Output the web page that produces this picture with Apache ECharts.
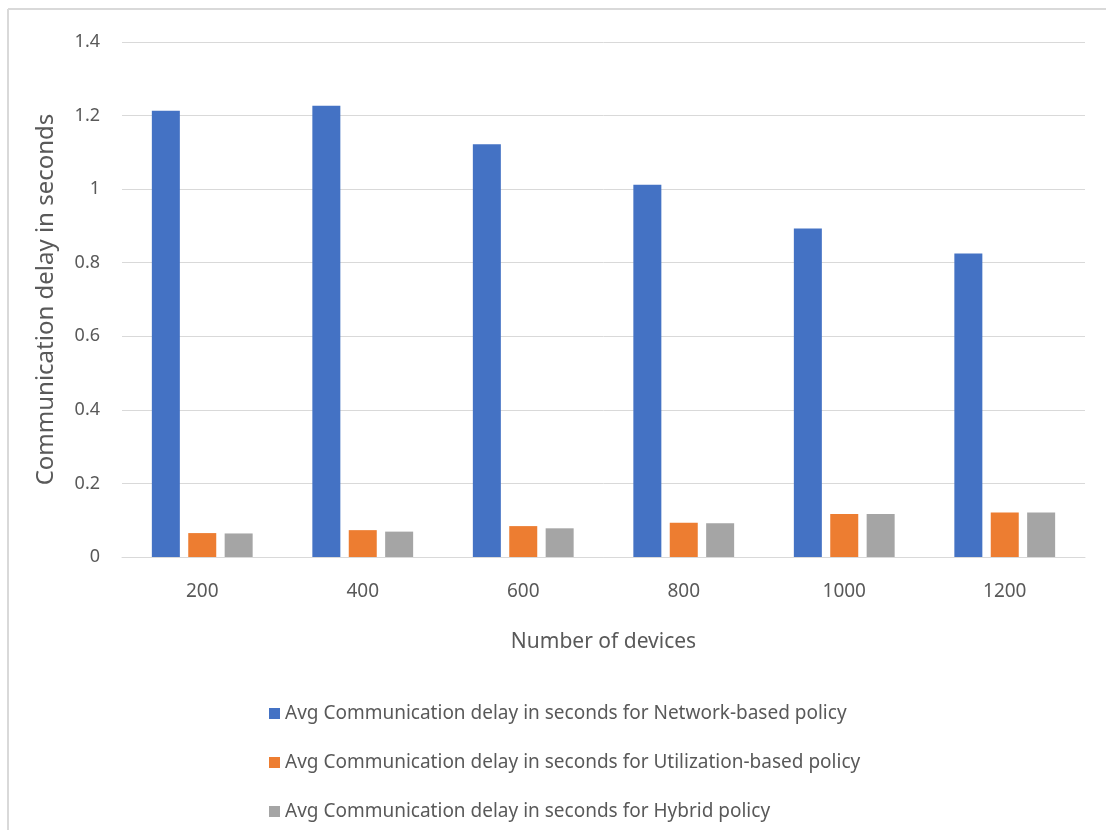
<!DOCTYPE html>
<html>
<head>
<meta charset="utf-8">
<script src="https://cdn.jsdelivr.net/npm/echarts@6/dist/echarts.min.js"></script>
<style>
  html, body { margin: 0; padding: 0; background: #fff; }
  #chart { width: 1106px; height: 830px; }
</style>
</head>
<body>
<div id="chart"></div>
<script>
// Number of devices on the x axis
const categories = ['200', '400', '600', '800', '1000', '1200'];

// Average communication delay (seconds) per policy
const networkBased = [1.213, 1.227, 1.122, 1.012, 0.893, 0.825];
const utilizationBased = [0.065, 0.073, 0.084, 0.093, 0.117, 0.121];
const hybrid = [0.064, 0.069, 0.078, 0.092, 0.117, 0.121];

const seriesNames = [
  'Avg Communication delay in seconds for Network-based policy',
  'Avg Communication delay in seconds for Utilization-based policy',
  'Avg Communication delay in seconds for Hybrid policy'
];
const colors = ['#4472c4', '#ed7d31', '#a5a5a5'];

const FONT = 'Noto Sans';
const TEXT = '#595959';

const chart = echarts.init(document.getElementById('chart'), null, { renderer: 'canvas' });

const makeBar = (name, data, color) => ({
  name,
  type: 'bar',
  data,
  barWidth: 28,
  barGap: '30%',
  itemStyle: { color },
  emphasis: { disabled: true }
});

chart.setOption({
  backgroundColor: '#ffffff',
  animation: false,
  color: colors,
  textStyle: { fontFamily: FONT, color: TEXT },
  // chart frame (left and top edges)
  graphic: [
    { type: 'line', shape: { x1: 8, y1: 9, x2: 1106, y2: 9 }, style: { stroke: '#d9d9d9', lineWidth: 2 } },
    { type: 'line', shape: { x1: 8, y1: 9, x2: 8, y2: 830 }, style: { stroke: '#d9d9d9', lineWidth: 2 } }
  ],
  grid: { left: 122, right: 21, top: 42, bottom: 273 },
  legend: {
    orient: 'vertical',
    left: 269,
    top: 704,
    height: 126,
    padding: 0,
    itemWidth: 11,
    itemHeight: 11,
    itemGap: 30,
    icon: 'rect',
    textStyle: { fontFamily: FONT, fontSize: 19, color: TEXT },
    data: seriesNames
  },
  xAxis: {
    type: 'category',
    data: categories,
    name: 'Number of devices',
    nameLocation: 'middle',
    nameGap: 75,
    nameTextStyle: { fontFamily: FONT, fontSize: 21, color: TEXT },
    axisLine: { lineStyle: { color: '#d9d9d9', width: 1 } },
    axisTick: { show: false },
    axisLabel: { fontFamily: FONT, fontSize: 19, color: TEXT, margin: 25 }
  },
  yAxis: {
    type: 'value',
    min: 0,
    max: 1.4,
    interval: 0.2,
    name: 'Communication delay in seconds',
    nameLocation: 'middle',
    nameGap: 64,
    nameTextStyle: { fontFamily: FONT, fontSize: 24, color: TEXT },
    axisLine: { show: false },
    axisTick: { show: false },
    axisLabel: {
      fontFamily: FONT, fontSize: 18, color: TEXT, margin: 22,
      formatter: v => String(Math.round(v * 10) / 10)
    },
    splitLine: { lineStyle: { color: '#d9d9d9', width: 1 } }
  },
  series: [
    makeBar(seriesNames[0], networkBased, colors[0]),
    makeBar(seriesNames[1], utilizationBased, colors[1]),
    makeBar(seriesNames[2], hybrid, colors[2])
  ]
});
</script>
</body>
</html>
